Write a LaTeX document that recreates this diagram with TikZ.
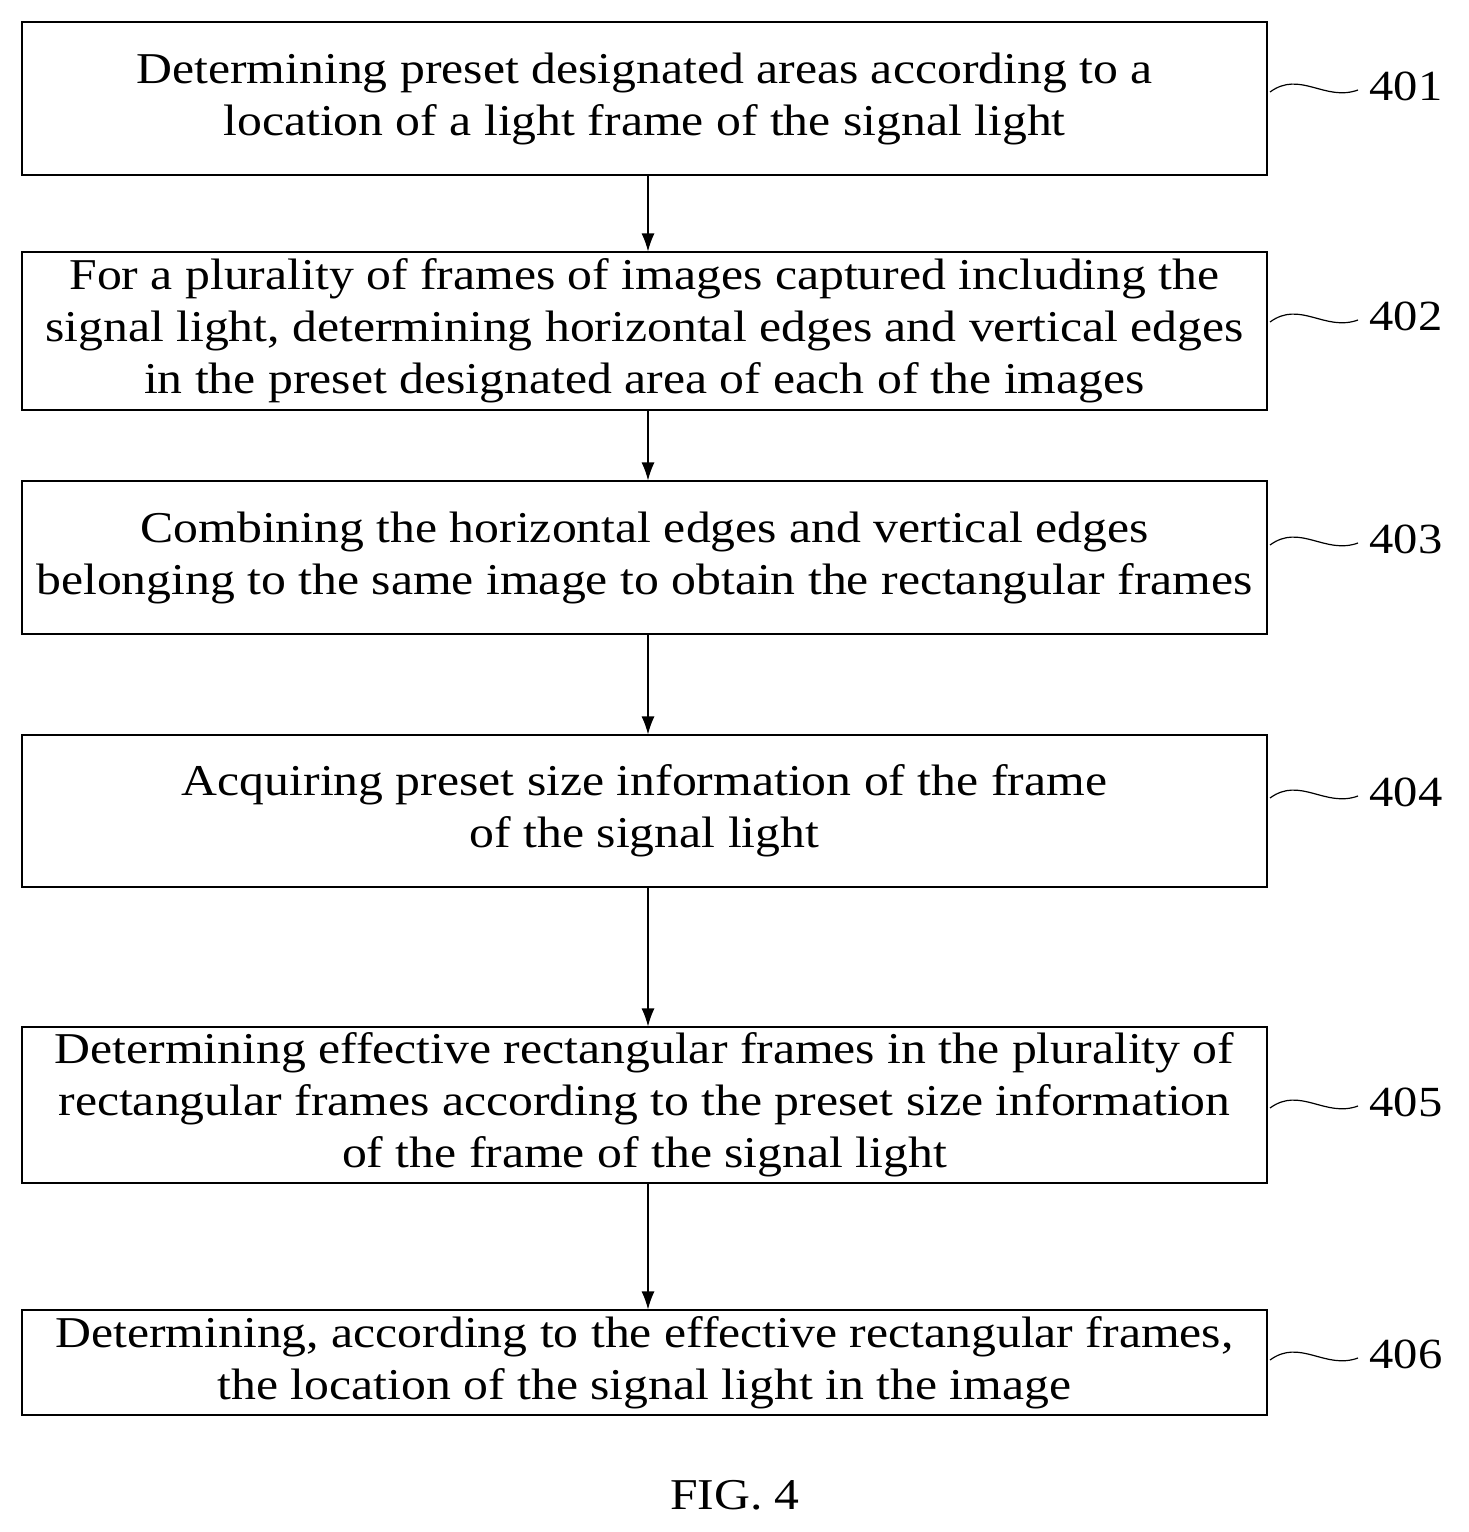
\documentclass[tikz,border=0pt]{standalone}
\usepackage{fontspec}
\setmainfont{Liberation Serif}[FakeStretch=1.13]
\begin{document}
\begin{tikzpicture}[x=1pt,y=-1pt,
box/.style={draw,line width=1.2pt,minimum width=1245pt,align=center,font=\fontsize{44}{52}\selectfont,inner sep=0pt},
lab/.style={font=\fontsize{43}{50}\selectfont,anchor=west},
arr/.style={-{Latex[length=18pt,width=13pt]},line width=1.2pt},
sq/.style={line width=1.2pt}]
\usetikzlibrary{arrows.meta}
\useasboundingbox (0,0) rectangle (1468,1532);
\node[box,minimum height=153pt] (b1) at (644.5,98.5) {Determining preset designated areas according to a\\location of a light frame of the signal light};
\node[box,minimum height=158pt] (b2) at (644.5,331) {For a plurality of frames of images captured including the\\signal light, determining horizontal edges and vertical edges\\in the preset designated area of each of the images};
\node[box,minimum height=153pt] (b3) at (644.5,557.5) {Combining the horizontal edges and vertical edges\\belonging to the same image to obtain the rectangular frames};
\node[box,minimum height=152pt] (b4) at (644.5,811) {Acquiring preset size information of the frame\\of the signal light};
\node[box,minimum height=156pt] (b5) at (644.5,1105) {Determining effective rectangular frames in the plurality of\\rectangular frames according to the preset size information\\of the frame of the signal light};
\node[box,minimum height=105pt] (b6) at (644.5,1362.5) {Determining, according to the effective rectangular frames,\\the location of the signal light in the image};
\foreach \a/\b in {b1/b2,b2/b3,b3/b4,b4/b5,b5/b6}{\draw[arr] (\a.south -| 648,0) -- (\b.north -| 648,0);}
\foreach \n/\y/\t in {b1/92/401,b2/322/402,b3/545/403,b4/798/404,b5/1108/405,b6/1360/406}{
 \coordinate (s\t) at (1270,\y);
 \draw[sq] (s\t) .. controls (1300,\y-22) and (1325,\y+10) .. (1358,\y-2);
 \node[lab] (l\t) at (1366,\y-6) {\t};}
\node[font=\fontsize{44}{50}\selectfont] (fig) at (735,1495) {FIG. 4};
\end{tikzpicture}
\end{document}
